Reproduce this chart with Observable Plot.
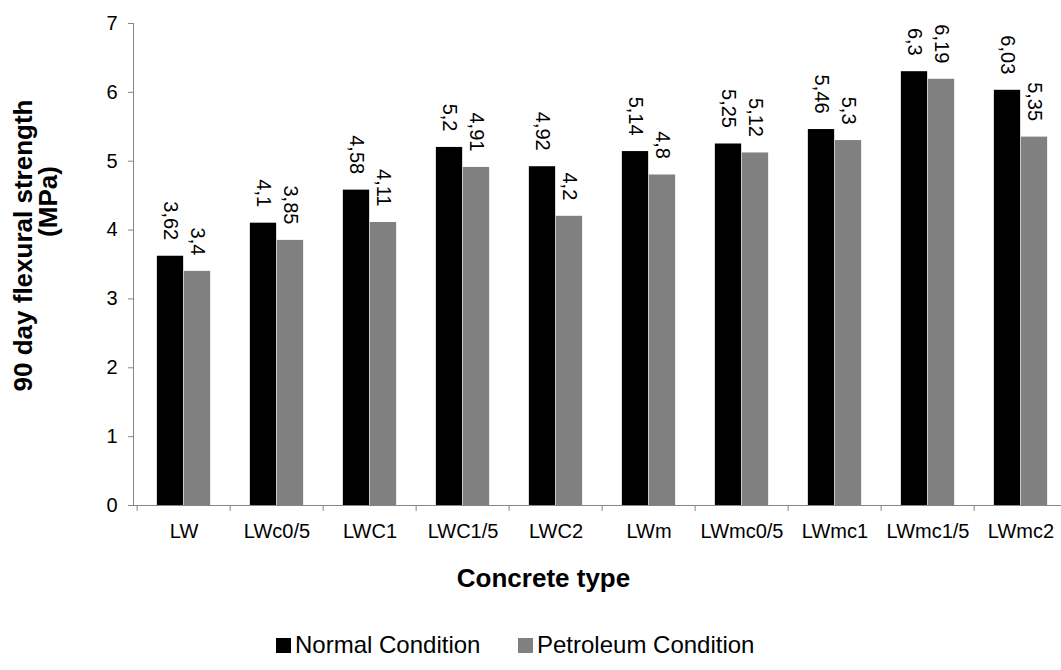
<!DOCTYPE html>
<html>
<head>
<meta charset="utf-8">
<script src="https://cdn.jsdelivr.net/npm/d3@7"></script>
<script src="https://cdn.jsdelivr.net/npm/@observablehq/plot@0.6"></script>
<style>
  html, body { margin: 0; padding: 0; background: #fff; }
  #wrap { position: relative; width: 1061px; height: 670px; overflow: hidden; font-family: "Liberation Sans", Arial, sans-serif; }
  .leg { position: absolute; top: 620px; height: 50px; display: flex; align-items: center; font-size: 24px; line-height: 24px; color: #000; white-space: nowrap; }
  .sw { display: inline-block; width: 15px; height: 15px; margin-right: 4px; }
</style>
</head>
<body>
<div id="wrap"></div>
<script>
// ---- data ----
const categories = ["LW", "LWc0/5", "LWC1", "LWC1/5", "LWC2", "LWm", "LWmc0/5", "LWmc1", "LWmc1/5", "LWmc2"];
const normalCondition = [3.62, 4.1, 4.58, 5.2, 4.92, 5.14, 5.25, 5.46, 6.3, 6.03];
const petroleumCondition = [3.4, 3.85, 4.11, 4.91, 4.2, 4.8, 5.12, 5.3, 6.19, 5.35];
const seriesNames = ["Normal Condition", "Petroleum Condition"];
const seriesColors = ["#000000", "#808080"];
const yTicks = [0, 1, 2, 3, 4, 5, 6, 7];
const yTitleLines = ["90 day flexural strength", "(MPa)"];
const xTitle = "Concrete type";

// ---- build table ----
const normalRows = categories.map((c, i) => ({cat: c, v: normalCondition[i]}));
const petroRows = categories.map((c, i) => ({cat: c, v: petroleumCondition[i]}));
const fmt = v => String(v).replace(".", ",");

const W = 1061, H = 620;
const mL = 133, mT = 23, mB = 115;
const xRange = [mL, 1070];
const step = (xRange[1] - xRange[0]) / categories.length;
const barW = 27;
const outer = (step - 2 * barW) / 2;
const axisGray = "#868686";
const midX = (mL + W) / 2;           // frame centre x (frameAnchor "middle")
const midY = (mT + H - mB) / 2;      // frame centre y

const chart = Plot.plot({
  width: W,
  height: H,
  marginTop: mT,
  marginBottom: mB,
  marginLeft: mL,
  marginRight: 0,
  style: {fontFamily: "'Liberation Sans', Arial, sans-serif", fontSize: "20px", color: "#000", background: "#fff"},
  x: {domain: categories, range: xRange, padding: 0, label: null},
  y: {domain: [0, 7], label: null},
  marks: [
    Plot.barY(normalRows, {x: "cat", y: "v", fill: seriesColors[0], insetLeft: outer, insetRight: step - outer - barW}),
    Plot.barY(petroRows, {x: "cat", y: "v", fill: seriesColors[1], insetLeft: outer + barW, insetRight: outer}),
    Plot.frame({anchor: "left", stroke: axisGray}),
    Plot.ruleY([0], {stroke: axisGray}),
    Plot.axisY({ticks: yTicks, tickFormat: d => String(d), tickSize: 5, tickPadding: 11, stroke: axisGray, fill: "#000", fontSize: 20, label: null}),
    Plot.axisX({tickSize: 6, tickFormat: () => "", stroke: axisGray, dx: -step / 2, label: null}),
    Plot.axisX({tickSize: 0, tickPadding: 18, fill: "#000", fontSize: 20, label: null}),
    Plot.text(normalRows, {x: "cat", y: "v", text: d => fmt(d.v), rotate: 90, textAnchor: "end", lineAnchor: "middle", dy: -16, dx: -barW / 2, fontSize: 20, fill: "#000"}),
    Plot.text(petroRows, {x: "cat", y: "v", text: d => fmt(d.v), rotate: 90, textAnchor: "end", lineAnchor: "middle", dy: -16, dx: barW / 2, fontSize: 20, fill: "#000"}),
    Plot.text([yTitleLines[0]], {frameAnchor: "middle", text: d => d, rotate: -90, textAnchor: "middle", lineAnchor: "middle", dx: 23 - midX, dy: 245 - midY, fontSize: 26, fontWeight: "bold", fill: "#000"}),
    Plot.text([yTitleLines[1]], {frameAnchor: "middle", text: d => d, rotate: -90, textAnchor: "middle", lineAnchor: "middle", dx: 48 - midX, dy: 201 - midY, fontSize: 26, fontWeight: "bold", fill: "#000"}),
    Plot.text([xTitle], {frameAnchor: "bottom", text: d => d, textAnchor: "middle", dx: -54, dy: 63, lineAnchor: "top", fontSize: 26, fontWeight: "bold", fill: "#000"})
  ]
});

const wrap = document.getElementById("wrap");
wrap.appendChild(chart);

// legend (below the SVG)
const legLefts = [276, 518];
seriesNames.forEach((name, i) => {
  const item = document.createElement("div");
  item.className = "leg";
  item.style.left = legLefts[i] + "px";
  const sw = document.createElement("span");
  sw.className = "sw";
  sw.style.background = seriesColors[i];
  const tx = document.createElement("span");
  tx.textContent = name;
  item.appendChild(sw);
  item.appendChild(tx);
  wrap.appendChild(item);
});
</script>
</body>
</html>
